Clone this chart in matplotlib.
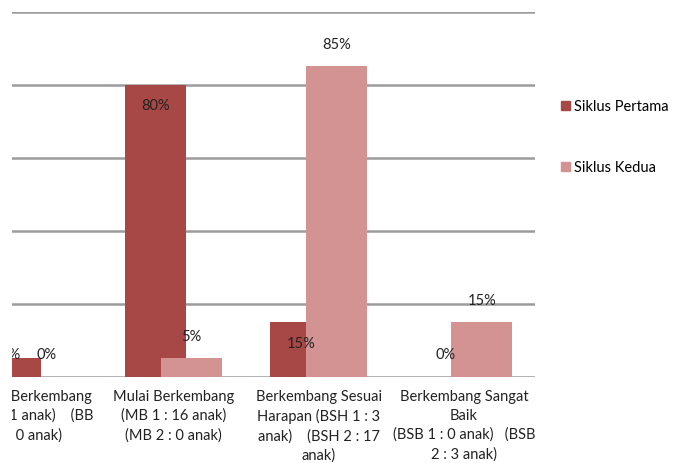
import matplotlib.pyplot as plt
from matplotlib.transforms import Bbox, TransformedBbox
from matplotlib.patches import Patch

plt.rcParams['font.family'] = ['Lato', 'DejaVu Sans']

kategori = [
    "Belum Berkembang\n(BB 1 : 1 anak)    (BB\n2 : 0 anak)",
    "Mulai Berkembang\n(MB 1 : 16 anak)\n(MB 2 : 0 anak)",
    "Berkembang Sesuai\nHarapan (BSH 1 : 3\nanak)    (BSH 2 : 17\nanak)",
    "Berkembang Sangat\nBaik\n(BSB 1 : 0 anak)   (BSB\n2 : 3 anak)",
]
siklus_pertama = [5, 80, 15, 0]
siklus_kedua = [0, 5, 85, 15]

warna_pertama = "#A84846"
warna_kedua = "#D49393"

fig = plt.figure(figsize=(6.8, 4.63), dpi=100)
ax = fig.add_axes([12 / 680, (463 - 376.5) / 463, 523 / 680, 365 / 463])

lebar = 0.42
geser = 0.124
x = list(range(len(kategori)))

ax.bar([i - geser for i in x], siklus_pertama, width=lebar, color=warna_pertama, zorder=2)
ax.bar([i + geser for i in x], siklus_kedua, width=lebar, color=warna_kedua, zorder=3)

ax.set_xlim(-0.115, 3.49)
ax.set_ylim(0, 100)

# garis bantu horizontal
for y in [0, 20, 40, 60, 80, 100]:
    ax.axhline(y, color="#9c9c9c", lw=1.8, zorder=1)

for s in ax.spines.values():
    s.set_visible(False)
ax.set_xticks([])
ax.set_yticks([])

# potongan tepi kiri
klip = TransformedBbox(Bbox.from_extents(12 / 680, 0, 1, 1), fig.transFigure)


def tulis(*args, **kw):
    t = ax.text(*args, **kw)
    t.set_clip_path(None)
    t.set_clip_box(klip)
    t.set_clip_on(True)
    return t


fs = 10.5
for i, v in enumerate(siklus_pertama):
    ypos = max(v - 6, 6)
    tulis(i - geser, ypos, f"{v}%", ha="center", va="center", fontsize=fs,
          color="#222222", zorder=5)
for i, v in enumerate(siklus_kedua):
    tulis(i + geser, v + 5.8, f"{v}%", ha="center", va="center", fontsize=fs,
          color="#222222", zorder=5)

for i, lab in enumerate(kategori):
    tulis(i, -0.036, lab, transform=ax.get_xaxis_transform(), ha="center", va="top",
          fontsize=fs, color="#222222", linespacing=1.45)

handles = [Patch(color=warna_pertama, label="Siklus Pertama"),
           Patch(color=warna_kedua, label="Siklus Kedua")]
fig.legend(handles=handles, loc="upper left", bbox_to_anchor=(561 / 680, 1 - 100 / 463),
           frameon=False, fontsize=fs, handlelength=0.6, handleheight=0.6,
           handletextpad=0.3, labelspacing=3.2, borderpad=0, borderaxespad=0)

fig.savefig("out.png", dpi=100)
